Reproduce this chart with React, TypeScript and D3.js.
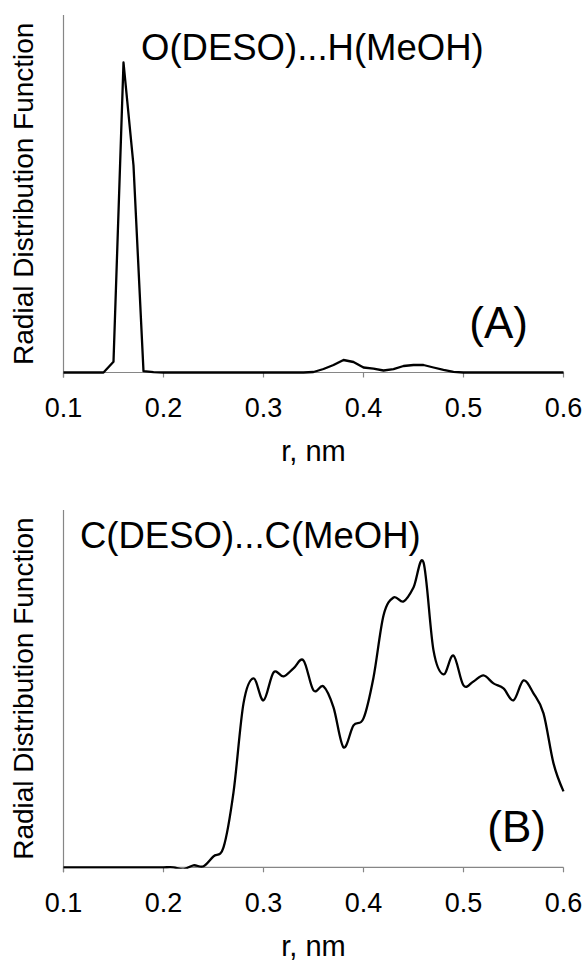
import * as d3 from "d3";

// r grid, nm (0.01 step as in the source data)
const radius = [
  0.1, 0.11, 0.12, 0.13, 0.14, 0.15, 0.16, 0.17, 0.18, 0.19,
  0.2, 0.21, 0.22, 0.23, 0.24, 0.25, 0.26, 0.27, 0.28, 0.29,
  0.3, 0.31, 0.32, 0.33, 0.34, 0.35, 0.36, 0.37, 0.38, 0.39,
  0.4, 0.41, 0.42, 0.43, 0.44, 0.45, 0.46, 0.47, 0.48, 0.49,
  0.5, 0.51, 0.52, 0.53, 0.54, 0.55, 0.56, 0.57, 0.58, 0.59,
  0.6,
];

// O(DESO)...H(MeOH), arbitrary units
const rdfOH = [
  0, 0, 0, 0, 0, 0.107, 3.1, 2.07, 0.013, 0.003,
  0, 0, 0, 0, 0, 0, 0, 0, 0, 0,
  0, 0, 0, 0, 0, 0.005, 0.035, 0.075, 0.125, 0.105,
  0.05, 0.038, 0.02, 0.033, 0.065, 0.075, 0.075, 0.05, 0.027, 0.007,
  0, 0, 0, 0, 0, 0, 0, 0, 0, 0,
  0,
];

// C(DESO)...C(MeOH), arbitrary units
const rdfCC = [
  0, 0, 0, 0, 0, 0, 0, 0, 0, 0,
  0, 0, -0.02, 0.02, 0.01, 0.11, 0.2, 0.75, 1.64, 1.89,
  1.67, 1.95, 1.91, 1.99, 2.07, 1.77, 1.81, 1.6, 1.2, 1.42,
  1.49, 1.9, 2.52, 2.7, 2.66, 2.8, 3.05, 2.17, 1.93, 2.12,
  1.82, 1.86, 1.92, 1.84, 1.79, 1.67, 1.87, 1.74, 1.54, 1.04,
  0.76,
];

const xTicks = [0.1, 0.2, 0.3, 0.4, 0.5, 0.6];
const xTickLabels = ["0.1", "0.2", "0.3", "0.4", "0.5", "0.6"];

const font = "'Liberation Sans', Arial, sans-serif";
const axisColor = "#868686";

interface PanelProps {
  id: string;
  values: number[];
  top: number;
  bottom: number;
  title: string;
  titleX: number;
  titleY: number;
  tag: string;
  tagX: number;
  tagY: number;
  smooth: boolean;
}

function Panel({ id, values, top, bottom, title, titleX, titleY, tag, tagX, tagY, smooth }: PanelProps) {
  const x = d3.scaleLinear().domain([0.1, 0.6]).range([63.5, 563.5]);
  const y = d3.scaleLinear().domain([0, 3.575]).range([bottom, top]);
  const points = radius.map((r, i) => [r, values[i]] as [number, number]);
  const line = d3
    .line<[number, number]>()
    .x((d) => x(d[0]))
    .y((d) => y(d[1]))
    .curve(smooth ? d3.curveCardinal : d3.curveLinear);

  return (
    <g>
      <defs>
        <clipPath id={id}>
          <rect x={x(0.1) - 2} y={top - 4} width={x(0.6) - x(0.1) + 4} height={bottom - top + 5.5} />
        </clipPath>
      </defs>
      <line x1={x(0.1)} x2={x(0.1)} y1={top} y2={bottom + 5} stroke={axisColor} strokeWidth={1.2} />
      <line x1={x(0.1)} x2={x(0.6)} y1={bottom} y2={bottom} stroke={axisColor} strokeWidth={1.2} />
      {xTicks.map((t, i) => (
        <g key={t}>
          <line x1={x(t)} x2={x(t)} y1={bottom} y2={bottom + 5} stroke={axisColor} strokeWidth={1.2} />
          <text x={x(t)} y={bottom + 44.5} textAnchor="middle" fontSize={27}>
            {xTickLabels[i]}
          </text>
        </g>
      ))}
      <path d={line(points) ?? undefined} fill="none" stroke="#000" strokeWidth={2.3} strokeLinejoin="round" clipPath={`url(#${id})`} />
      <text x={(x(0.1) + x(0.6)) / 2} y={bottom + 88.5} textAnchor="middle" fontSize={29}>
        r, nm
      </text>
      <text
        transform={`translate(33,${(top + bottom) / 2}) rotate(-90)`}
        textAnchor="middle"
        fontSize={28}
      >
        Radial Distribution Function
      </text>
      <text x={titleX} y={titleY} fontSize={36.5}>
        {title}
      </text>
      <text x={tagX} y={tagY} textAnchor="end" fontSize={44}>
        {tag}
      </text>
    </g>
  );
}

export default function App() {
  return (
    <svg
      width={584}
      height={963}
      viewBox="0 0 584 963"
      style={{ position: "absolute", left: 0, top: 0, background: "#fff" }}
      fontFamily={font}
    >
      <rect width={584} height={963} fill="#fff" />
      <Panel
        id="clipA"
        values={rdfOH}
        top={15}
        bottom={372.5}
        title="O(DESO)...H(MeOH)"
        titleX={141}
        titleY={60}
        tag="(A)"
        tagX={528}
        tagY={338}
        smooth={false}
      />
      <Panel
        id="clipB"
        values={rdfCC}
        top={510}
        bottom={867.3}
        title="C(DESO)...C(MeOH)"
        titleX={80}
        titleY={548}
        tag="(B)"
        tagX={546}
        tagY={842}
        smooth={true}
      />
    </svg>
  );
}
